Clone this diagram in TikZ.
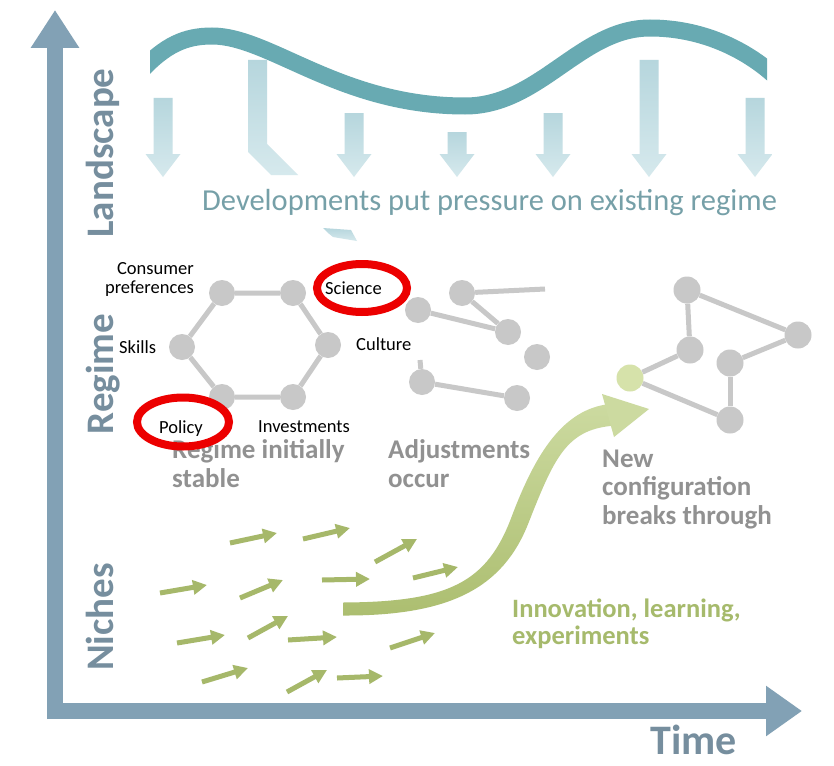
\documentclass[tikz,border=0pt]{standalone}
\usepackage{fontspec}
\setmainfont{Carlito}
\usetikzlibrary{arrows.meta}
\definecolor{axisc}{RGB}{130,161,181}
\definecolor{labc}{RGB}{118,142,158}
\definecolor{wavec}{RGB}{104,170,178}
\definecolor{downtop}{RGB}{182,214,221}
\definecolor{downbot}{RGB}{214,233,237}
\definecolor{devc}{RGB}{118,160,168}
\definecolor{netc}{RGB}{200,200,200}
\definecolor{greenc}{RGB}{166,184,106}
\definecolor{bigdark}{RGB}{172,190,112}
\definecolor{headc}{RGB}{204,218,160}
\definecolor{graytxt}{RGB}{145,145,145}
\definecolor{redc}{RGB}{236,0,0}
\definecolor{nodegreen}{RGB}{214,226,170}
\definecolor{innovc}{RGB}{166,186,108}
\tikzset{
  netnode/.style={circle, fill=netc, minimum size=26pt, inner sep=0pt},
  netline/.style={draw=netc, line width=5pt},
  smalllbl/.style={font=\fontsize{18.5}{19}\selectfont, text=black, inner sep=0pt},
  graylbl/.style={font=\bfseries\fontsize{27}{28.5}\selectfont, text=graytxt, align=left, inner sep=0pt},
  axislbl/.style={font=\bfseries\fontsize{39}{40}\selectfont, text=labc, inner sep=0pt},
  sarrow/.style={line width=5pt, draw=greenc, -{Triangle[length=14pt,width=14pt]}},
  redring/.style={draw=redc, line width=8pt},
  downarr/.style={top color=downtop, bottom color=downbot, draw=none},
}
\newcommand{\pressarrow}[2]{% center x, top y
  \shade[downarr] (#1-9.5,#2) -- (#1+9.5,#2) -- (#1+9.5,154) -- (#1+17.5,154) -- (#1,177) -- (#1-17.5,154) -- (#1-9.5,154) -- cycle;}
\begin{document}
\begin{tikzpicture}[x=1pt,y=-1pt]
\useasboundingbox (0,0) rectangle (834,765);
\fill[white] (0,0) rectangle (834,765);

% axes
\draw[axisc, line width=16pt, -{Triangle[length=38pt,width=46pt]}] (55,719) -- (55,10);
\draw[axisc, line width=16pt, -{Triangle[length=36pt,width=48pt]}] (47,711) -- (802,711);
\node[axislbl, rotate=90, anchor=base] (land) at (113,153) {Landscape};
\node[axislbl, rotate=90, anchor=base] (regl) at (113,374) {Regime};
\node[axislbl, rotate=90, anchor=base] (nich) at (113,617) {Niches};
\node[axislbl, font=\bfseries\fontsize{42}{44}\selectfont, anchor=base west] (time) at (650,754) {Time};

% wave
\begin{scope}
  \clip (150,0) rectangle (767,140);
  \draw[wavec, line width=17pt] (140,72) .. controls (165,45) and (185,36) .. (212,36)
     .. controls (270,36) and (340,106) .. (465,106)
     .. controls (540,106) and (580,28) .. (650,28)
     .. controls (700,28) and (745,48) .. (777,78);
\end{scope}

% landscape pressure arrows
\pressarrow{163}{98}
\pressarrow{354}{113}
\pressarrow{457}{132}
\pressarrow{553}{113}
\pressarrow{649}{60}
\pressarrow{755}{98}
\shade[downarr] (248,60) -- (267,60) -- (267,144) -- (298,175) -- (271,175) -- (248,152) -- cycle;
\shade[downarr] (323,228) -- (351,230) -- (357,241) -- (333,237) -- (328,233) -- cycle;

\node[anchor=base west, font=\fontsize{30.5}{32}\selectfont, text=devc, inner sep=0pt] (dev) at (202,210) {Developments put pressure on existing regime};

% stable regime (hexagon)
\node[netnode] (h1) at (222,293) {};
\node[netnode] (h2) at (293,293) {};
\node[netnode] (h3) at (328,345) {};
\node[netnode] (h4) at (293,397) {};
\node[netnode] (h5) at (222,397) {};
\node[netnode] (h6) at (182,347) {};
\draw[netline] (h1) -- (h2) -- (h3) -- (h4) -- (h5) -- (h6) -- (h1);

\node[smalllbl, align=right, anchor=south east] (cons) at (194,297) {Consumer\\preferences};
\node[smalllbl, anchor=base west] (skil) at (119,353) {Skills};
\node[smalllbl, anchor=base west] (scie) at (325,294) {Science};
\node[smalllbl, anchor=base west] (cult) at (356,350) {Culture};
\node[smalllbl, anchor=base west] (poli) at (159,433) {Policy};
\node[smalllbl, anchor=base west] (inve) at (258,432) {Investments};

% adjusting regime
\node[netnode] (m1) at (418,310) {};
\node[netnode] (m2) at (462,293) {};
\node[netnode] (m3) at (508,332) {};
\node[netnode] (m4) at (537,357) {};
\node[netnode] (m5) at (422,382) {};
\node[netnode] (m6) at (517,398) {};
\coordinate (m2end) at (545,289);
\coordinate (m5end) at (420,360);
\draw[netline] (m1) -- (m3);
\draw[netline] (m2) -- (m3);
\draw[netline] (m2) -- (m2end);
\draw[netline] (m5) -- (m5end);
\draw[netline] (m5) -- (m6);

% new configuration
\node[netnode, minimum size=27pt] (n1) at (687,290) {};
\node[netnode, minimum size=27pt] (n2) at (798,335) {};
\node[netnode, minimum size=27pt] (n3) at (690,350) {};
\node[netnode, minimum size=27pt] (n4) at (730,363) {};
\node[netnode, minimum size=27pt, fill=nodegreen] (n5) at (630,378) {};
\node[netnode, minimum size=27pt] (n6) at (730,420) {};
\draw[netline] (n1) -- (n2);
\draw[netline] (n1) -- (n3);
\draw[netline] (n3) -- (n5);
\draw[netline] (n5) -- (n6);
\draw[netline] (n4) -- (n2);
\draw[netline] (n4) -- (n6);

% gray labels (base = last line)
\node[graylbl, anchor=base west] (stab) at (172,487) {Regime initially\\stable};
\node[graylbl, anchor=base west] (adju) at (388,487) {Adjustments\\occur};
\node[graylbl, anchor=base west] (newc) at (602,524) {New\\configuration\\breaks through};

% red rings
\draw[redring] (362,288) ellipse [x radius=45pt, y radius=24pt];
\draw[redring] (183,422) ellipse [x radius=46pt, y radius=24.5pt];

% niche arrows
\foreach \ax/\ay/\bx/\by in {
  230/543/277/533, 303/539/350/528, 375/562/417/539,
  160/593/207/585, 240/598/283/580, 322/580/370/579, 413/578/458/567,
  177/643/225/635, 248/638/288/616, 288/640/337/637, 390/648/435/633,
  202/682/248/668, 287/692/327/670, 337/678/383/676}
  \draw[sarrow] (\ax,\ay) -- (\bx,\by);

% breakthrough arrow (tapered body + head)
\shade[top color=headc, bottom color=bigdark] (343,602.5) .. controls (450,602) and (487.1,582) .. (511.6,516.8)
   .. controls (536.1,451.6) and (563.8,409.6) .. (608.8,404.1) -- (611.2,425.9)
   .. controls (566.2,430.4) and (553.9,458.4) .. (528.4,523.2)
   .. controls (502.9,588) and (450,616) .. (343,615.5) -- cycle;
\fill[headc] (602,394) -- (649,409) -- (614,437) -- cycle;

\node[font=\bfseries\fontsize{26.5}{27}\selectfont, text=innovc, align=left, anchor=base west, inner sep=0pt] (inno) at (512,644) {Innovation, learning,\\experiments};
\end{tikzpicture}
\end{document}
